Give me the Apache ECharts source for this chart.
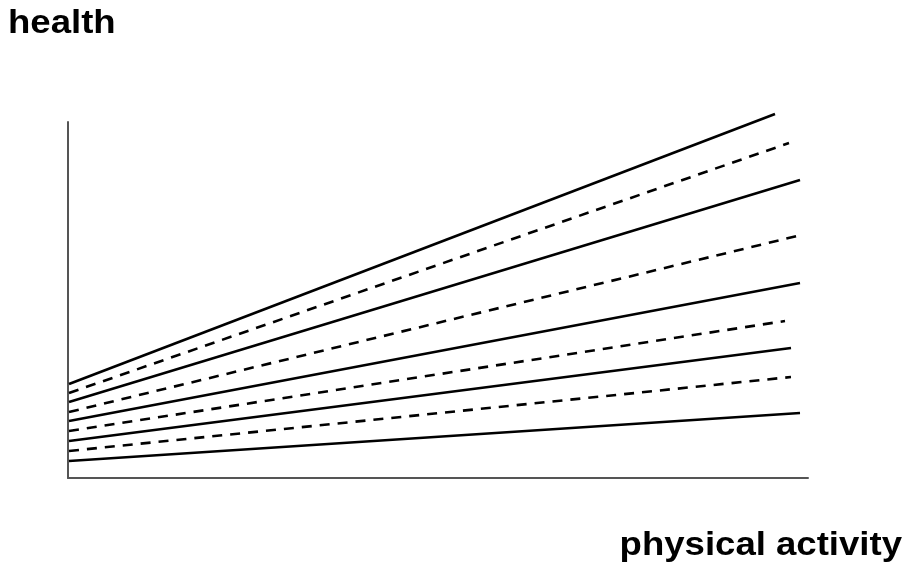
<!DOCTYPE html>
<html>
<head>
<meta charset="utf-8">
<script src="https://cdn.jsdelivr.net/npm/echarts@6/dist/echarts.min.js"></script>
<style>
  html, body { margin: 0; padding: 0; background: #fff; }
  #main { width: 914px; height: 574px; }
</style>
</head>
<body>
<div id="main"></div>
<script>
// nine regression lines, top to bottom (solid / dashed alternate)
var startX = [1, 1, 1, 1, 1, 1, 1, 1, 1];
var startY = [94, 85, 76, 66, 57, 47, 37, 27, 17];
var endX = [707, 721, 732, 729, 732, 717, 723, 723, 732];
var endY = [364, 335, 298, 242, 195, 157, 130, 101, 65];

var series = [];
for (var i = 0; i < startY.length; i++) {
    series.push({
        type: 'line',
        symbol: 'none',
        clip: false,
        silent: true,
        lineStyle: {
            color: '#000',
            width: 2.6,
            type: i % 2 === 0 ? 'solid' : [10, 8]
        },
        data: [[startX[i], startY[i]], [endX[i], endY[i]]]
    });
}

var font = 'Liberation Sans, Arial, sans-serif';
var chart = echarts.init(document.getElementById('main'));
chart.setOption({
    backgroundColor: '#fff',
    animation: false,
    grid: { left: 68, top: 122, width: 740, height: 356 },
    xAxis: {
        type: 'value', min: 0, max: 740,
        axisLine: { show: true, lineStyle: { color: '#555', width: 2 } },
        axisTick: { show: false },
        axisLabel: { show: false },
        splitLine: { show: false }
    },
    yAxis: {
        type: 'value', min: 0, max: 356,
        axisLine: { show: true, lineStyle: { color: '#555', width: 2 } },
        axisTick: { show: false },
        axisLabel: { show: false },
        splitLine: { show: false }
    },
    graphic: [
        {
            type: 'text', x: 8, y: 7, scaleX: 1.075,
            style: { text: 'health', fontFamily: font, fontWeight: 'bold', fontSize: 34, fill: '#000', align: 'left', verticalAlign: 'top' }
        },
        {
            type: 'text', x: 902, y: 529, scaleX: 1.075,
            style: { text: 'physical activity', fontFamily: font, fontWeight: 'bold', fontSize: 34, fill: '#000', align: 'right', verticalAlign: 'top' }
        }
    ],
    series: series
});
</script>
</body>
</html>
